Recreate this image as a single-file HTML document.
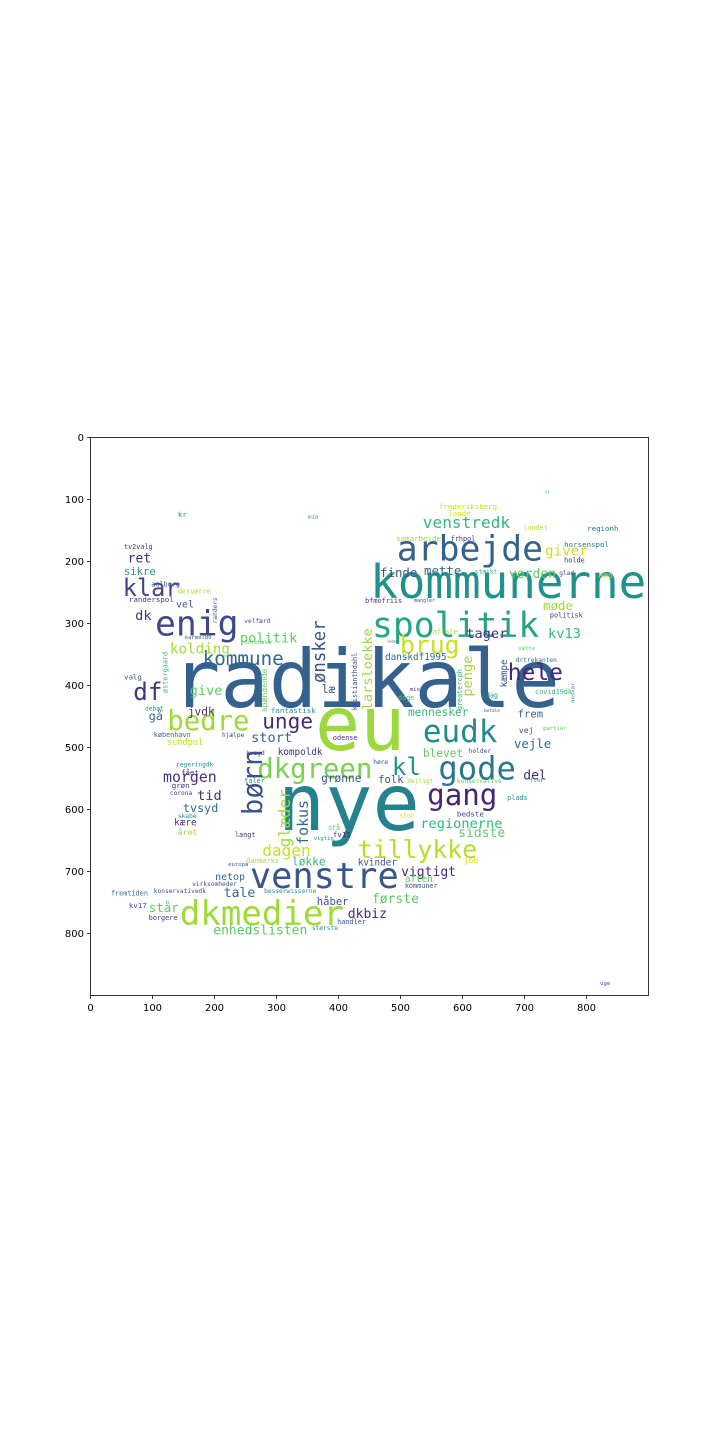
<!DOCTYPE html>
<html><head><meta charset="utf-8">
<style>
html,body{margin:0;padding:0;background:#fff;}
svg{display:block;}
text{font-family:"DejaVu Sans Mono","Liberation Mono",monospace;}
.tk{font-family:"DejaVu Sans","Liberation Sans",sans-serif;font-size:10px;fill:#000;}
</style></head>
<body>
<svg id="chart" width="720" height="1440" viewBox="0 0 720 1440" xmlns="http://www.w3.org/2000/svg">
<rect x="0" y="0" width="720" height="1440" fill="#fff"/>
<g id="words"></g>
<rect x="90.5" y="437.5" width="558" height="558" fill="none" stroke="#000" stroke-width="0.8"/>
<g id="xticks"></g>
<g id="yticks"></g>
</svg>
<script>
const imgSize = 900;
const xTickValues = [0,100,200,300,400,500,600,700,800];
const yTickValues = [0,100,200,300,400,500,600,700,800];
const words = [
"radikale","eu","nye","kommunerne","arbejde","spolitik","venstre","dkmedier","dkgreen","gode",
"eudk","gang","tillykke","bedre","enig","klar","df","børn","brug","hele",
"kl","kommune","venstredk","giver","unge","første","politik","kolding","dagen","regionerne",
"sidste","frederiksberg","lande","landet","regionh","horsenspol","samarbejde","frhpol","tv2valg","kr",
"ret","sikre","finde","mette","verden","amp","holde","glad","stærkt","aalborg",
"desværre","randerspol","vel","dk","bfmofriis","mangler","møde","politisk","kv13","tager",
"velfærd","karmel80","bornholm","danskdf1995","drtrekanten","sætte","aftale","inden","valg","give",
"jvdk","debat","penge","ønsker","larsloekke","læ","mio","dage","idag","covid19dk",
"fantastisk","mennesker","frem","betale","gå","sundpol","stort","vej","vejle","odense",
"partier","københavn","hjælpe","kompoldk","kvsyd","blevet","holder","del","regeringdk","morgen",
"høre","fået","grønne","folk","dejligt","konservative","flot","taler","grøn","corona",
"tid","plads","tvsyd","fokus","glæder","skabe","bedste","stop","kære","året",
"langt","fv15","vigtig","stå","løkke","kvinder","vigtigt","danmarks","job","europa",
"netop","aften","kommuner","virksomheder","fremtiden","konservativedk","besserwisserne","tale","håber","står",
"kv17","borgere","dkbiz","handler","enhedslisten","største","spændende","kristianthdahl","greatercph","kæmpe",
"ansvar","randers","østergaard","mia","tl","uge"];
// font size per word (image units) - text width follows from monospace advance
const wordSizes = [
130,121,127,74,56,56,57,55,44,52,
50,47,40,44,56,38,39,44,40,37,
39,31,26,23,34,21,22,23,26,22,
21,12,12,11,12,12,12,11,11,12,
21,17,20,20,21,13,11,10,10,11,
11,12,16,22,11,8,20,11,22,22,
10,9,9,15,10,9,11,6,12,22,
18,10,22,28,22,18,9,11,11,11,
12,18,17,7,19,14,22,13,20,11,
9,11,10,15,10,18,10,21,10,24,
10,12,18,17,10,10,9,11,12,10,
22,11,19,24,26,10,12,10,15,13,
11,12,9,11,18,15,21,11,13,9,
16,15,11,10,11,10,10,21,17,20,
12,11,21,11,21,10,13,11,11,15,
9,10,11,9,7,9];
const wordColors = [
"#34618d","#9bd93c","#26818e","#21918c","#33638d","#25a584","#39568c","#a0da39","#7ad151","#2b758e",
"#228c8d","#482475","#b5de2b","#a0da39","#3f4889","#414487","#46337f","#3b528b","#c8e020","#482878",
"#21918c","#31688e","#35b779","#c8e020","#482878","#5ec962","#5ec962","#a0da39","#c8e020","#35b779",
"#5ec962","#c8e020","#d8e219","#c8e020","#2a788e","#2a788e","#a0da39","#46327e","#46327e","#21918c",
"#482878","#21918c","#3b528b","#31688e","#5ec962","#c8e020","#482878","#3b528b","#35b779","#3b528b",
"#a0da39","#46327e","#3b528b","#46327e","#46327e","#3b528b","#a0da39","#46327e","#35b779","#46327e",
"#3b528b","#31688e","#5ec962","#31688e","#31688e","#5ec962","#a0da39","#3b528b","#3b528b","#5ec962",
"#46327e","#21918c","#a0da39","#3b528b","#a0da39","#3b528b","#46327e","#5ec962","#21918c","#35b779",
"#21918c","#35b779","#31688e","#3b528b","#31688e","#c8e020","#31688e","#3b528b","#31688e","#46327e",
"#5ec962","#31688e","#3b528b","#46327e","#3b528b","#5ec962","#3b528b","#482878","#21918c","#46327e",
"#3b528b","#46327e","#3b528b","#3b528b","#a0da39","#5ec962","#21918c","#21918c","#46327e","#46327e",
"#46327e","#21918c","#31688e","#31688e","#a0da39","#21918c","#46327e","#d8e219","#46327e","#a0da39",
"#482878","#482878","#21918c","#5ec962","#35b779","#3b528b","#482878","#a0da39","#d8e219","#3b528b",
"#31688e","#5ec962","#3b528b","#3b528b","#31688e","#3b528b","#21918c","#31688e","#3b528b","#5ec962",
"#3b528b","#46327e","#482878","#3b528b","#5ec962","#21918c","#5ec962","#3b528b","#35b779","#3b528b",
"#21918c","#3b528b","#35b779","#21918c","#35b779","#3b528b"];
const wordX = [
131,362,302,451,494,454,257,144,269,561,
536,543,431,124,104,52,69,277,499,673,
486,181,536,733,277,454,241,128,277,532,
593,562,577,698,801,764,493,581,54,141,
60,54,467,538,675,819,764,756,620,98,
141,62,138,72,443,522,730,741,738,606,
248,152,248,475,686,690,552,478,54,160,
157,88,615,378,454,373,515,496,631,717,
291,512,689,635,94,123,259,691,683,391,
730,102,212,302,251,536,610,698,138,117,
456,146,372,464,511,591,709,248,131,128,
172,672,149,351,322,141,591,498,135,141,
233,391,360,383,325,431,501,251,602,222,
201,507,507,164,33,102,280,215,365,94,
62,94,415,398,198,357,285,430,599,672,
781,204,124,351,733,822];
const wordY = [
435,504,633,259,198,322,727,786,549,552,
491,593,678,472,319,256,423,609,348,391,
544,367,146,190,469,751,331,348,675,630,
644,115,127,149,151,177,167,167,180,128,
202,222,225,222,227,227,202,222,219,240,
252,265,274,294,267,265,278,290,323,323,
299,325,333,359,362,343,317,331,390,415,
448,440,418,396,440,412,409,423,419,414,
444,449,452,443,456,496,491,477,501,488,
472,483,483,512,512,515,509,552,531,556,
527,544,556,557,557,557,556,557,565,577,
585,585,604,657,661,614,611,613,626,641,
644,644,649,633,690,690,707,686,686,691,
714,717,727,723,739,735,735,741,754,765,
759,778,775,785,802,794,443,440,440,403,
428,300,412,131,90,883];
const rotatedWords = ["børn","penge","ønsker","larsloekke","fokus","glæder","spændende","kristianthdahl","greatercph","kæmpe","ansvar","randers","østergaard"];

const axL = 90.5, axT = 437.5, axW = 558;
function sx(v){ return axL + v / imgSize * axW; }
function sy(v){ return axT + v / imgSize * axW; }
const k = axW / imgSize;
const NS = "http://www.w3.org/2000/svg";

const g = document.getElementById('words');
for (let i = 0; i < words.length; i++) {
  const t = document.createElementNS(NS, 'text');
  
  
  const x = sx(wordX[i]), y = sy(wordY[i]);
  const fs = wordSizes[i] * k;
  t.setAttribute('x', x);
  t.setAttribute('y', y);
  t.setAttribute('font-size', fs.toFixed(1));
  t.setAttribute('fill', wordColors[i]);
  t.setAttribute('textLength', (fs * 0.602 * Array.from(words[i]).length).toFixed(1));
  t.setAttribute('lengthAdjust', 'spacingAndGlyphs');
  if (rotatedWords.indexOf(words[i]) >= 0) t.setAttribute('transform', 'rotate(-90 ' + x + ' ' + y + ')');
  t.textContent = words[i];
  g.appendChild(t);
}

const xg = document.getElementById('xticks');
xTickValues.forEach(v => {
  const l = document.createElementNS(NS, 'line');
  
  
  l.setAttribute('x1', sx(v)); l.setAttribute('x2', sx(v));
  l.setAttribute('y1', 995.5); l.setAttribute('y2', 999);
  l.setAttribute('stroke', '#000'); l.setAttribute('stroke-width', '0.8');
  xg.appendChild(l);
  const t = document.createElementNS(NS, 'text');
  
  
  t.setAttribute('class', 'tk');
  t.setAttribute('x', sx(v)); t.setAttribute('y', 1011);
  t.setAttribute('text-anchor', 'middle');
  t.textContent = v;
  xg.appendChild(t);
});
const yg = document.getElementById('yticks');
yTickValues.forEach(v => {
  const l = document.createElementNS(NS, 'line');
  
  
  l.setAttribute('x1', 87); l.setAttribute('x2', 90.5);
  l.setAttribute('y1', sy(v)); l.setAttribute('y2', sy(v));
  l.setAttribute('stroke', '#000'); l.setAttribute('stroke-width', '0.8');
  yg.appendChild(l);
  const t = document.createElementNS(NS, 'text');
  
  
  t.setAttribute('class', 'tk');
  t.setAttribute('x', 84); t.setAttribute('y', sy(v) + 3.5);
  t.setAttribute('text-anchor', 'end');
  t.textContent = v;
  yg.appendChild(t);
});
</script>
</body></html>
